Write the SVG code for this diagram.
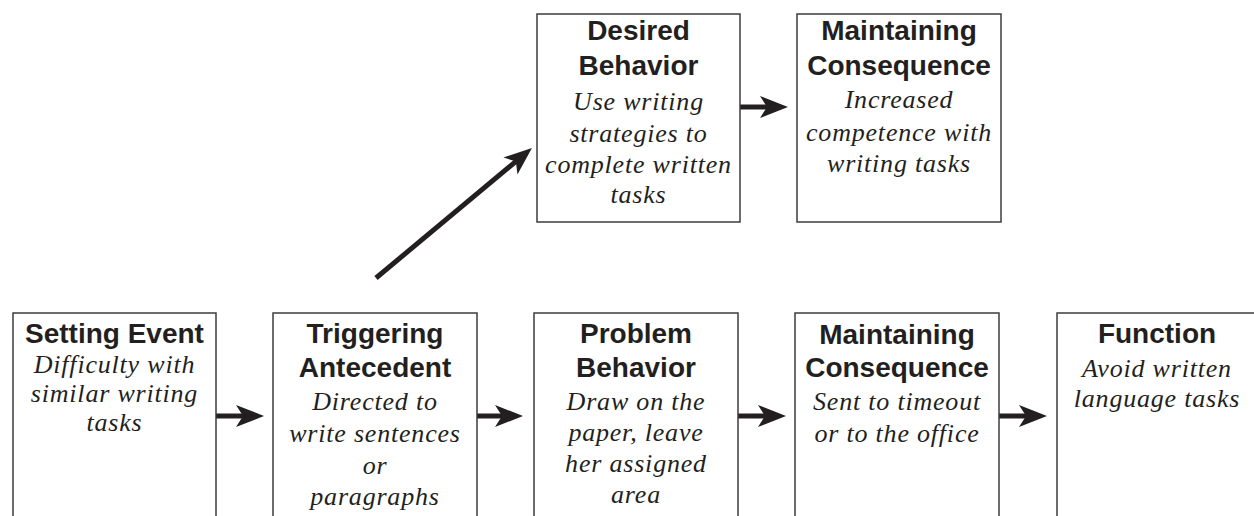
<svg xmlns="http://www.w3.org/2000/svg" width="1254" height="516" viewBox="0 0 1254 516">
  <defs>
    <style>
      .box { fill: #ffffff; stroke: #3d3d3d; stroke-width: 1.5; }
      .title { font-family: "Liberation Sans", Arial, sans-serif; font-weight: bold; font-size: 28px; fill: #231f20; text-anchor: middle; }
      .hand { font-family: "Liberation Serif", "Times New Roman", serif; font-style: italic; font-size: 26px; letter-spacing: 0.8px; fill: #231f20; text-anchor: middle; }
      .link { stroke: #231f20; stroke-width: 5; fill: none; marker-end: url(#head); }
    </style>
    <marker id="head" viewBox="0 0 28 22" markerWidth="28" markerHeight="22" refX="8" refY="11" orient="auto" markerUnits="userSpaceOnUse">
      <path d="M0,0 L28,11 L0,22 L7,11 Z" fill="#231f20"/>
    </marker>
  </defs>

  <rect width="1254" height="516" fill="#ffffff"/>

  <!-- connectors -->
  <g id="connectors">
    <line class="link" x1="216" y1="416" x2="244" y2="416"/>
    <line class="link" x1="477" y1="416" x2="503" y2="416"/>
    <line class="link" x1="738" y1="416" x2="766" y2="416"/>
    <line class="link" x1="999" y1="416" x2="1027" y2="416"/>
    <line class="link" x1="740" y1="107" x2="768" y2="107"/>
    <line class="link" x1="376" y1="278" x2="516.6" y2="160.8"/>
  </g>

  <!-- upper row -->
  <g id="desired-behavior">
    <rect class="box" x="537" y="14" width="203" height="208"/>
    <text class="title" x="638.5" y="40">Desired</text>
    <text class="title" x="638.5" y="75">Behavior</text>
    <text class="hand" x="638.5" y="110">Use writing</text>
    <text class="hand" x="638.5" y="142">strategies to</text>
    <text class="hand" x="638.5" y="173">complete written</text>
    <text class="hand" x="638.5" y="203">tasks</text>
  </g>

  <g id="maintaining-consequence-desired">
    <rect class="box" x="797" y="14" width="204" height="208"/>
    <text class="title" x="899" y="40">Maintaining</text>
    <text class="title" x="899" y="75">Consequence</text>
    <text class="hand" x="899" y="108">Increased</text>
    <text class="hand" x="899" y="141">competence with</text>
    <text class="hand" x="899" y="172">writing tasks</text>
  </g>

  <!-- lower row -->
  <g id="setting-event">
    <rect class="box" x="13" y="313" width="203" height="220"/>
    <text class="title" x="114.5" y="343">Setting Event</text>
    <text class="hand" x="114.5" y="373">Difficulty with</text>
    <text class="hand" x="114.5" y="402">similar writing</text>
    <text class="hand" x="114.5" y="431">tasks</text>
  </g>

  <g id="triggering-antecedent">
    <rect class="box" x="273" y="313" width="204" height="220"/>
    <text class="title" x="375" y="343">Triggering</text>
    <text class="title" x="375" y="377">Antecedent</text>
    <text class="hand" x="375" y="410">Directed to</text>
    <text class="hand" x="375" y="442">write sentences</text>
    <text class="hand" x="375" y="474">or</text>
    <text class="hand" x="375" y="505">paragraphs</text>
  </g>

  <g id="problem-behavior">
    <rect class="box" x="534" y="313" width="204" height="220"/>
    <text class="title" x="636" y="343">Problem</text>
    <text class="title" x="636" y="377">Behavior</text>
    <text class="hand" x="636" y="410">Draw on the</text>
    <text class="hand" x="636" y="441">paper, leave</text>
    <text class="hand" x="636" y="472">her assigned</text>
    <text class="hand" x="636" y="503">area</text>
  </g>

  <g id="maintaining-consequence-problem">
    <rect class="box" x="795" y="313" width="204" height="220"/>
    <text class="title" x="897" y="344">Maintaining</text>
    <text class="title" x="897" y="377">Consequence</text>
    <text class="hand" x="897" y="410">Sent to timeout</text>
    <text class="hand" x="897" y="442">or to the office</text>
  </g>

  <g id="function">
    <rect class="box" x="1057" y="313" width="204" height="220"/>
    <text class="title" x="1157" y="343">Function</text>
    <text class="hand" x="1157" y="377">Avoid written</text>
    <text class="hand" x="1157" y="407">language tasks</text>
  </g>
</svg>
